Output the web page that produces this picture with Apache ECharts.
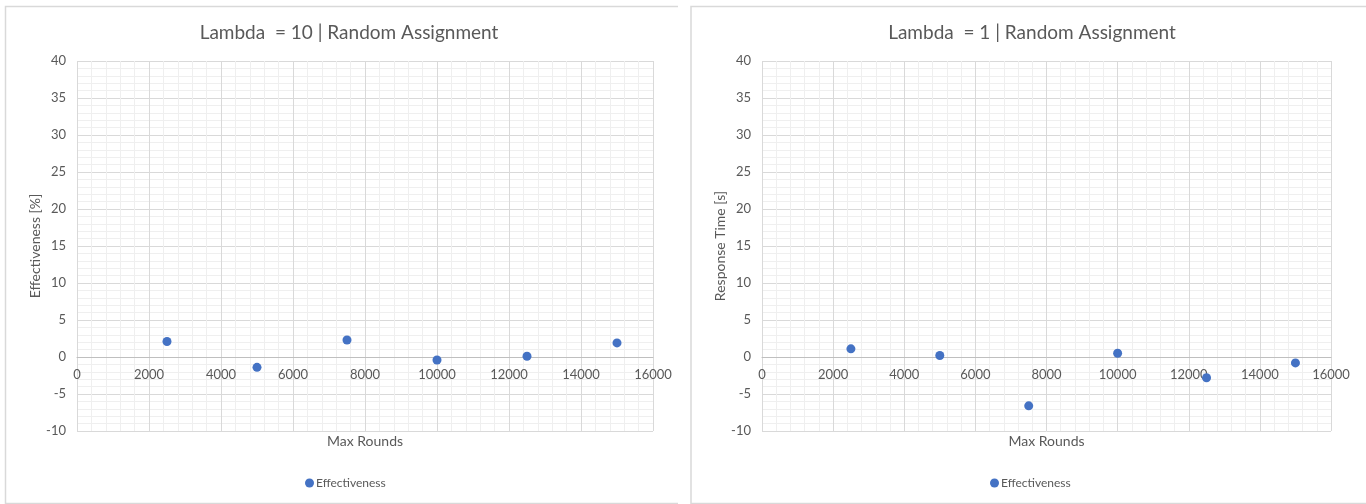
<!DOCTYPE html>
<html>
<head>
<meta charset="utf-8">
<script src="https://cdn.jsdelivr.net/npm/echarts@6/dist/echarts.min.js"></script>
<style>
html,body{margin:0;padding:0;background:#fff;}
#main{width:1366px;height:504px;}
</style>
</head>
<body>
<div id="main"></div>
<script>
const maxRounds = [2500, 5000, 7500, 10000, 12500, 15000];
const effectivenessLambda10 = [2.1, -1.4, 2.3, -0.4, 0.1, 1.9];
const responseLambda1 = [1.1, 0.2, -6.6, 0.5, -2.8, -0.8];
const titles = ['Lambda  = 10 | Random Assignment', 'Lambda  = 1 | Random Assignment'];
const yNames = ['Effectiveness [%]', 'Response Time [s]'];
const xName = 'Max Rounds';
const seriesName = 'Effectiveness';

const FONT = 'Lato';
const TXT = '#595959';
const Y_MIN = -10, Y_MAX = 40;
const GRID_TOP = 61, GRID_BOTTOM_PX = 431;
// distance from bottom of plot to the y = 0 line, derived from the scale
const zeroOffset = (GRID_BOTTOM_PX - GRID_TOP) * (0 - Y_MIN) / (Y_MAX - Y_MIN);

function pairs(xs, ys) { return xs.map((x, i) => [x, ys[i]]); }

function xAxis(gi) {
  return {
    type: 'value', gridIndex: gi, min: 0, max: 16000, interval: 2000,
    position: 'bottom', offset: -zeroOffset,
    name: xName, nameLocation: 'middle', nameGap: 77,
    nameTextStyle: { color: TXT, fontSize: 14, fontFamily: FONT },
    axisLine: { show: true, onZero: false, lineStyle: { color: '#bfbfbf', width: 1 } },
    axisTick: { show: false },
    axisLabel: { color: TXT, fontSize: 13, fontFamily: FONT, margin: 11, showMinLabel: true, showMaxLabel: true,
      formatter: v => String(v) },
    splitLine: { show: true, lineStyle: { color: '#d9d9d9', width: 1 } },
    minorTick: { show: false, splitNumber: 5 },
    minorSplitLine: { show: true, lineStyle: { color: '#efefef', width: 1 } }
  };
}
function yAxis(gi) {
  return {
    type: 'value', gridIndex: gi, min: Y_MIN, max: Y_MAX, interval: 5,
    name: yNames[gi], nameLocation: 'middle', nameGap: 34,
    nameTextStyle: { color: TXT, fontSize: 14, fontFamily: FONT },
    axisLine: { show: false, onZero: false },
    axisTick: { show: false },
    axisLabel: { color: TXT, fontSize: 13, fontFamily: FONT, margin: 11 },
    splitLine: { show: true, lineStyle: { color: '#d9d9d9', width: 1 } },
    minorTick: { show: false, splitNumber: 5 },
    minorSplitLine: { show: true, lineStyle: { color: '#efefef', width: 1 } }
  };
}

const chart = echarts.init(document.getElementById('main'), null, { renderer: 'canvas' });
chart.setOption({
  animation: false,
  backgroundColor: '#ffffff',
  title: [
    { text: titles[0], left: 344, top: 18, textAlign: 'center', textStyle: { color: TXT, fontSize: 19, fontWeight: 'normal', fontFamily: FONT } },
    { text: titles[1], left: 1027, top: 18, textAlign: 'center', textStyle: { color: TXT, fontSize: 19, fontWeight: 'normal', fontFamily: FONT } }
  ],
  legend: [
    { data: [seriesName], left: 300, top: 472, icon: 'circle', itemWidth: 9, itemHeight: 9, itemGap: 4, selectedMode: false,
      textStyle: { color: TXT, fontSize: 12, fontFamily: FONT, padding: [0, 0, 0, -3] } },
    { data: [seriesName], left: 985, top: 472, icon: 'circle', itemWidth: 9, itemHeight: 9, itemGap: 4, selectedMode: false,
      textStyle: { color: TXT, fontSize: 12, fontFamily: FONT, padding: [0, 0, 0, -3] } }
  ],
  grid: [
    { left: 77, right: 1366 - 653, top: GRID_TOP, bottom: 504 - GRID_BOTTOM_PX, containLabel: false, outerBoundsMode: 'none' },
    { left: 762, right: 1366 - 1331, top: GRID_TOP, bottom: 504 - GRID_BOTTOM_PX, containLabel: false, outerBoundsMode: 'none' }
  ],
  xAxis: [xAxis(0), xAxis(1)],
  yAxis: [yAxis(0), yAxis(1)],
  series: [
    { name: seriesName, type: 'scatter', xAxisIndex: 0, yAxisIndex: 0, symbolSize: 9,
      itemStyle: { color: '#4472C4', opacity: 1 }, data: pairs(maxRounds, effectivenessLambda10) },
    { name: seriesName, type: 'scatter', xAxisIndex: 1, yAxisIndex: 1, symbolSize: 9,
      itemStyle: { color: '#4472C4', opacity: 1 }, data: pairs(maxRounds, responseLambda1) }
  ],
  graphic: [
    { type: 'polyline', shape: { points: [[678, 6.5], [5.5, 6.5], [5.5, 503.5], [678, 503.5]] }, style: { stroke: '#d9d9d9', lineWidth: 1.5, fill: null }, silent: true },
    { type: 'polyline', shape: { points: [[1366, 6.5], [691, 6.5], [691, 503.5], [1366, 503.5]] }, style: { stroke: '#d9d9d9', lineWidth: 1.5, fill: null }, silent: true }
  ]
});
</script>
</body>
</html>
